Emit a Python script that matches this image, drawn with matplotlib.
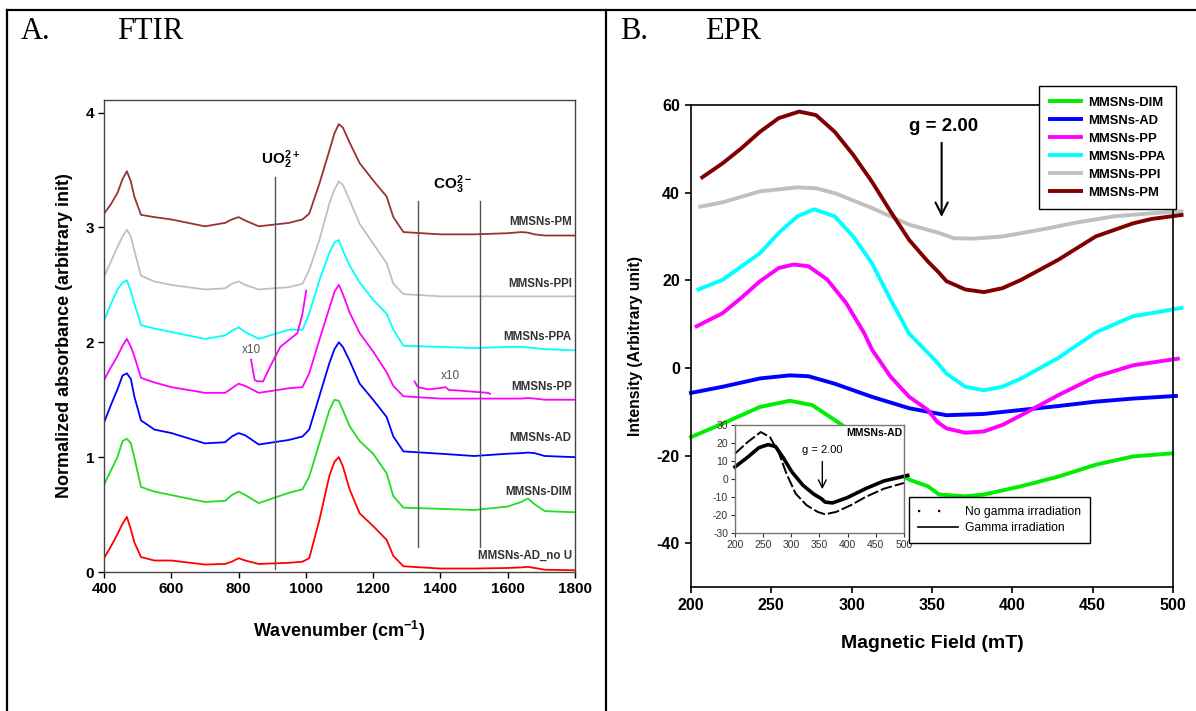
import numpy as np
import matplotlib
matplotlib.use('Agg')
import matplotlib.pyplot as plt
from matplotlib.lines import Line2D

plt.rcParams['font.family'] = ['Liberation Sans', 'DejaVu Sans']
plt.rcParams['axes.unicode_minus'] = False
plt.rcParams['mathtext.fontset'] = 'custom'
plt.rcParams['mathtext.rm'] = 'Liberation Sans:bold'
plt.rcParams['mathtext.bf'] = 'Liberation Sans:bold'
plt.rcParams['mathtext.default'] = 'bf'

# ---------------- FTIR data (panel A) ----------------
wn = [400, 420, 440, 455, 468, 480, 490, 510, 550, 600, 700, 760, 780, 800, 820, 860,
      950, 990, 1010, 1040, 1070, 1085, 1098, 1110, 1130, 1160, 1200, 1240, 1260, 1290,
      1400, 1500, 1600, 1640, 1660, 1680, 1710, 1800]

ftir_no_u = [0.12, 0.22, 0.33, 0.42, 0.48, 0.37, 0.26, 0.13, 0.10, 0.10, 0.065, 0.07, 0.09, 0.12,
             0.10, 0.07, 0.08, 0.09, 0.12, 0.45, 0.84, 0.96, 1.00, 0.92, 0.72, 0.51, 0.40, 0.28,
             0.14, 0.05, 0.03, 0.03, 0.035, 0.04, 0.045, 0.035, 0.02, 0.015]
ftir_dim = [0.76, 0.88, 1.00, 1.14, 1.16, 1.12, 1.00, 0.74, 0.70, 0.67, 0.61, 0.62, 0.67, 0.70,
            0.67, 0.60, 0.69, 0.72, 0.83, 1.12, 1.41, 1.50, 1.49, 1.41, 1.27, 1.14, 1.03, 0.86,
            0.66, 0.56, 0.55, 0.54, 0.57, 0.61, 0.64, 0.59, 0.53, 0.52]
ftir_ad = [1.30, 1.45, 1.59, 1.71, 1.73, 1.68, 1.53, 1.32, 1.24, 1.21, 1.12, 1.13, 1.18, 1.21,
           1.19, 1.11, 1.15, 1.18, 1.24, 1.53, 1.82, 1.94, 2.00, 1.96, 1.84, 1.64, 1.50, 1.35,
           1.18, 1.05, 1.03, 1.01, 1.03, 1.035, 1.04, 1.035, 1.01, 1.00]
ftir_pp = [1.67, 1.78, 1.88, 1.97, 2.03, 1.96, 1.88, 1.69, 1.65, 1.61, 1.56, 1.56, 1.60, 1.64,
           1.62, 1.56, 1.60, 1.61, 1.73, 2.02, 2.30, 2.44, 2.50, 2.42, 2.26, 2.08, 1.92, 1.74,
           1.62, 1.53, 1.51, 1.51, 1.51, 1.51, 1.515, 1.51, 1.50, 1.50]
ftir_ppa = [2.19, 2.33, 2.46, 2.52, 2.54, 2.44, 2.34, 2.15, 2.12, 2.09, 2.03, 2.06, 2.10, 2.13,
            2.09, 2.03, 2.11, 2.11, 2.25, 2.54, 2.78, 2.87, 2.89, 2.80, 2.67, 2.52, 2.37, 2.25,
            2.11, 1.97, 1.96, 1.95, 1.96, 1.96, 1.955, 1.95, 1.94, 1.93]
ftir_ppi = [2.57, 2.70, 2.83, 2.92, 2.98, 2.92, 2.80, 2.58, 2.53, 2.50, 2.46, 2.47, 2.51, 2.53,
            2.50, 2.46, 2.48, 2.51, 2.63, 2.89, 3.21, 3.33, 3.40, 3.37, 3.24, 3.03, 2.86, 2.69,
            2.51, 2.42, 2.40, 2.40, 2.40, 2.40, 2.40, 2.40, 2.40, 2.40]
ftir_pm = [3.12, 3.20, 3.30, 3.42, 3.49, 3.40, 3.27, 3.11, 3.09, 3.07, 3.01, 3.04, 3.07, 3.09,
           3.06, 3.01, 3.04, 3.07, 3.12, 3.38, 3.67, 3.82, 3.90, 3.87, 3.74, 3.56, 3.41, 3.27,
           3.09, 2.96, 2.94, 2.94, 2.95, 2.96, 2.955, 2.94, 2.93, 2.93]

# x10 zoomed pieces of the PP spectrum
x10_uo2_wn = [837, 848, 858, 873, 894, 924, 945, 975, 990, 1001]
x10_uo2_val = [1.85, 1.67, 1.66, 1.66, 1.79, 1.96, 2.01, 2.08, 2.25, 2.45]
x10_co3_wn = [1323, 1333, 1364, 1394, 1415, 1425, 1455, 1496, 1542, 1547]
x10_co3_val = [1.66, 1.61, 1.59, 1.60, 1.61, 1.585, 1.58, 1.57, 1.56, 1.55]

ftir_names = ['MMSNs-AD_no U', 'MMSNs-DIM', 'MMSNs-AD', 'MMSNs-PP', 'MMSNs-PPA', 'MMSNs-PPI', 'MMSNs-PM']
ftir_label_y = [0.14, 0.70, 1.17, 1.61, 2.05, 2.51, 3.05]
ftir_colors = ['#ff0000', '#22dd22', '#0000ff', '#ff00ff', '#00ffff', '#c0c0c0', '#993333']

# ---------------- EPR data (panel B) ----------------
pm_x = [207, 219.7, 231.3, 243, 254.6, 267.3, 277.8, 289.4, 301, 312.6, 324.2, 335.8, 347.4,
        354.4, 359, 370.7, 382.3, 393.9, 405.5, 428.7, 451.9, 475.2, 486.8, 505.3]
pm_y = [43.5, 46.7, 50.1, 53.9, 57.0, 58.5, 57.7, 53.9, 48.6, 42.5, 35.7, 29.2, 24.3,
        21.7, 19.8, 17.9, 17.3, 18.2, 20.1, 24.7, 30.0, 33.0, 34.0, 34.9]
ppi_x = [205.8, 219.7, 243, 266.2, 277.8, 289.4, 312.6, 335.8, 354.4, 363.7, 375.3, 393.9,
         417.1, 440.3, 463.5, 486.8, 505.3]
ppi_y = [36.8, 37.8, 40.3, 41.2, 41.0, 39.9, 36.5, 32.7, 30.8, 29.6, 29.5, 30.0,
         31.5, 33.2, 34.6, 35.3, 35.7]
ppa_x = [204.6, 219.7, 243, 254.6, 266.2, 276.6, 289.4, 301, 312.6, 324.2, 335.8, 352.1, 359,
         370.7, 382.3, 393.9, 405.5, 428.7, 451.9, 475.2, 486.8, 505.3]
ppa_y = [17.9, 20.1, 26.2, 30.8, 34.6, 36.2, 34.6, 30.0, 23.9, 15.6, 7.8, 1.7, -1.3,
         -4.3, -5.1, -4.3, -2.4, 2.3, 8.1, 11.8, 12.5, 13.7]
pp_x = [203.5, 219.7, 231.3, 243, 254.6, 263.9, 273.1, 284.7, 296.4, 308, 312.6, 324.2, 335.8,
        347.4, 353.2, 359, 370.7, 382.3, 393.9, 405.5, 428.7, 451.9, 475.2, 503]
pp_y = [9.5, 12.5, 16.0, 19.8, 22.8, 23.6, 23.2, 20.2, 14.9, 7.8, 4.2, -2.0, -6.6,
        -9.6, -12.3, -13.8, -14.8, -14.5, -13.0, -10.8, -6.2, -2.0, 0.6, 2.1]
ad_x = [200, 219.7, 243, 261.5, 273.1, 289.4, 312.6, 335.8, 359, 382.3, 405.5, 428.7, 451.9,
        475.2, 501.8]
ad_y = [-5.7, -4.3, -2.4, -1.7, -1.9, -3.6, -6.6, -9.2, -10.8, -10.5, -9.6, -8.7, -7.7,
        -7.0, -6.4]
dim_x = [200, 219.7, 243, 261.5, 275.5, 294, 309, 324.2, 335.8, 347.4, 354.4, 370.7, 382.3,
         405.5, 428.7, 451.9, 475.2, 499.5]
dim_y = [-15.8, -12.7, -8.9, -7.5, -8.5, -13.0, -18.0, -22.5, -25.5, -27.0, -28.9, -29.3, -28.9,
         -27.0, -24.8, -22.1, -20.2, -19.5]

# inset: MMSNs-AD with / without gamma irradiation
nogam_x = [200, 222.8, 245.7, 262, 278.3, 291.3, 307.6, 327.2, 346.8, 359.8, 379.4, 405.5,
           431.6, 464.2, 500]
nogam_y = [14.1, 20.6, 26.1, 23.3, 14.1, 3.0, -8.1, -14.6, -18.3, -19.6, -18.3, -14.6,
           -10.0, -5.4, -2.2]
gam_x = [200, 222.8, 242.4, 258.7, 271.8, 284.8, 301.1, 320.7, 340.2, 353.3, 359.8, 372.9,
         399, 431.6, 464.2, 506.6]
gam_y = [6.7, 12.2, 17.4, 19.1, 18.1, 12.2, 3.9, -3.5, -8.5, -10.9, -12.8, -13.3,
         -10.4, -5.4, -1.1, 2.0]

W, H = 1196, 711


def fx(px):
    return px / W


def fy(py):
    return 1 - py / H


fig = plt.figure(figsize=(W / 100, H / 100), dpi=100)

# table-like frame lines
for (x0, y0, x1, y1) in [(7, 10, 1196, 10), (7, 10, 7, 711), (606, 10, 606, 711)]:
    fig.add_artist(Line2D([fx(x0), fx(x1)], [fy(y0), fy(y1)], color='black', lw=1.6))

serif = ['Liberation Serif', 'DejaVu Serif']
fig.text(fx(21), fy(39), 'A.', family=serif, fontsize=22, va='baseline')
fig.text(fx(117), fy(39), 'FTIR', family=serif, fontsize=22, va='baseline')
fig.text(fx(620), fy(39), 'B.', family=serif, fontsize=22, va='baseline')
fig.text(fx(705), fy(39), 'EPR', family=serif, fontsize=22, va='baseline')

# ---------------- panel A ----------------
ax1 = fig.add_axes([fx(104), fy(572), fx(575 - 104), (572 - 100) / H])
series = [ftir_no_u, ftir_dim, ftir_ad, ftir_pp, ftir_ppa, ftir_ppi, ftir_pm]
for vals, c in zip(series, ftir_colors):
    ax1.plot(wn, vals, color=c, lw=1.3)
ax1.plot(x10_uo2_wn, x10_uo2_val, color='#ff00ff', lw=1.3)
ax1.plot(x10_co3_wn, x10_co3_val, color='#ff00ff', lw=1.3)
ax1.text(837, 1.93, 'x10', fontsize=8.5, color='#555555', ha='center', va='center')
ax1.text(1430, 1.71, 'x10', fontsize=8.5, color='#555555', ha='center', va='center')

ax1.plot([908, 908], [0.03, 3.44], color='#555555', lw=1)
ax1.plot([1334, 1334], [0.22, 3.23], color='#555555', lw=1)
ax1.plot([1518, 1518], [0.22, 3.23], color='#555555', lw=1)
ax1.text(868, 3.59, r'UO$_2^{2+}$', fontsize=11, fontweight='bold', va='center')
ax1.text(1379, 3.37, r'CO$_3^{2-}$', fontsize=11, fontweight='bold', va='center')

for name, y in zip(ftir_names, ftir_label_y):
    ax1.text(1790, y, name, fontsize=8.3, fontweight='bold', color='#333333', ha='right', va='center')

ax1.set_xlim(400, 1800)
ax1.set_ylim(0, 4.11)
ax1.set_xticks(range(400, 1801, 200))
ax1.set_yticks([0, 1, 2, 3, 4])
ax1.tick_params(direction='out', length=4, width=1, labelsize=11, pad=3)
for lab in ax1.get_xticklabels() + ax1.get_yticklabels():
    lab.set_fontweight('bold')
for sp in ax1.spines.values():
    sp.set_color('#444444')
    sp.set_linewidth(1)
ax1.set_xlabel('Wavenumber (cm$^{-1}$)', fontsize=13, fontweight='bold')
ax1.set_ylabel('Normalized absorbance (arbitrary init)', fontsize=13, fontweight='bold')
ax1.xaxis.set_label_coords(0.5, -0.10)
ax1.yaxis.set_label_coords(-0.065, 0.5)

# ---------------- panel B ----------------
ax2 = fig.add_axes([fx(691), fy(587), fx(1173 - 691), (587 - 105) / H])
epr = [(dim_x, dim_y, '#00ee00', 'MMSNs-DIM'),
       (ad_x, ad_y, '#0000ff', 'MMSNs-AD'),
       (pp_x, pp_y, '#ff00ff', 'MMSNs-PP'),
       (ppa_x, ppa_y, '#00ffff', 'MMSNs-PPA'),
       (ppi_x, ppi_y, '#c0c0c0', 'MMSNs-PPI'),
       (pm_x, pm_y, '#800000', 'MMSNs-PM')]
for x, y, c, name in epr:
    ax2.plot(x, y, color=c, lw=2.8, label=name, clip_on=False)

ax2.set_xlim(200, 500)
ax2.set_ylim(-50, 60)
ax2.set_xticks(range(200, 501, 50))
ax2.set_yticks(range(-40, 61, 20))
ax2.tick_params(direction='out', length=4, width=1.2, labelsize=11.5, pad=4)
for lab in ax2.get_xticklabels() + ax2.get_yticklabels():
    lab.set_fontweight('bold')
for sp in ax2.spines.values():
    sp.set_linewidth(1.2)
ax2.set_xlabel('Magnetic Field (mT)', fontsize=14, fontweight='bold')
ax2.set_ylabel('Intensity (Arbitrary unit)', fontsize=11.3, fontweight='bold')
ax2.xaxis.set_label_coords(0.5, -0.10)
ax2.yaxis.set_label_coords(-0.10, 0.5)

ax2.annotate('', xy=(356, 33.8), xytext=(356, 52),
             arrowprops=dict(arrowstyle='->', color='black', lw=1.5, mutation_scale=22))
ax2.text(357, 55.2, 'g = 2.00', fontsize=13.5, fontweight='bold', ha='center', va='center')

leg = ax2.legend(loc='upper right', bbox_to_anchor=(fx(1176), fy(86)),
                 bbox_transform=fig.transFigure, borderaxespad=0, fancybox=False,
                 edgecolor='black', framealpha=1, prop={'size': 9.4, 'weight': 'bold'},
                 handlelength=2.4, handletextpad=0.55, labelspacing=0.45, borderpad=0.8)
leg.get_frame().set_linewidth(1)

# inset
ax3 = fig.add_axes([fx(735), fy(533), fx(904 - 735), (533 - 425) / H])
ax3.set_facecolor('white')
ax3.plot(nogam_x, nogam_y, color='black', lw=1.4, ls=(0, (6, 1.5)), clip_on=False)
ax3.plot(gam_x, gam_y, color='black', lw=2.6, clip_on=False)
ax3.set_xlim(200, 500)
ax3.set_ylim(-30, 30)
ax3.set_xticks(range(200, 501, 50))
ax3.set_yticks(range(-30, 31, 10))
ax3.tick_params(direction='out', length=3, width=0.8, labelsize=7.5, pad=2, colors='#333333')
for sp in ax3.spines.values():
    sp.set_color('#777777')
    sp.set_linewidth(1)
ax3.text(0.99, 0.97, 'MMSNs-AD', transform=ax3.transAxes, fontsize=7.5, fontweight='bold',
         ha='right', va='top')
ax3.text(355, 16, 'g = 2.00', fontsize=8, ha='center', va='center')
ax3.annotate('', xy=(355, -7.2), xytext=(355, 11.3),
             arrowprops=dict(arrowstyle='->', color='black', lw=1, mutation_scale=14))

handles = [Line2D([], [], color='black', lw=1.6, ls=(0, (1, 8))),
           Line2D([], [], color='black', lw=1.2)]
fig.legend(handles, ['No gamma irradiation', 'Gamma irradiation'], loc='upper left',
           bbox_to_anchor=(fx(909), fy(497)), borderaxespad=0, fancybox=False,
           edgecolor='black', framealpha=1, fontsize=8.7, handlelength=3.3,
           handletextpad=0.6, labelspacing=0.35, borderpad=0.75)

fig.savefig('out.png', dpi=100)
